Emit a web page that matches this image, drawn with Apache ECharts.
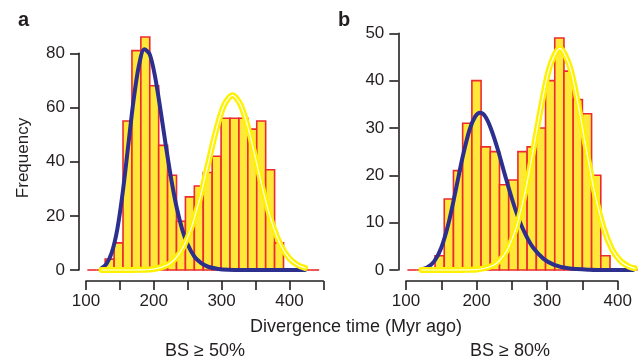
<!DOCTYPE html>
<html><head><meta charset="utf-8">
<script src="https://cdn.jsdelivr.net/npm/echarts@6/dist/echarts.min.js"></script>
<style>html,body{margin:0;padding:0;background:#fff}#c{width:640px;height:360px}</style>
</head><body><div id="c"></div><script>
// ---------- data ----------
// Panel a (BS >= 50%) histogram breaks and counts
const binEdgesA = [102, 115.15, 128.3, 141.45, 154.6, 167.75, 180.9, 194.05, 207.2, 220.35, 233.5, 246.65, 259.8, 272.95, 286.1, 299.25, 312.4, 325.55, 338.7, 351.85, 365, 378.15, 391.3, 404.45, 417.6, 430.75, 443.9];
const countsA = [0, 0, 4, 10, 55, 81, 86, 68, 46, 35, 18, 27, 31, 36, 42, 56, 56, 56, 52, 55, 37, 10, 0, 0, 0, 0];
// Panel b (BS >= 80%)
const binEdgesB = [102, 115.05, 128.1, 141.15, 154.2, 167.25, 180.3, 193.35, 206.4, 219.45, 232.5, 245.55, 258.6, 271.65, 284.7, 297.75, 310.8, 323.85, 336.9, 349.95, 363, 376.05, 389.1, 402.15, 415.2, 428.25];
const countsB = [0, 0, 0, 3, 15, 21, 31, 40, 26, 25, 18, 19, 25, 26, 30, 40, 49, 42, 36, 33, 20, 3, 0, 0, 0];

// Fitted curves
const blueAx = [123, 130, 138, 146, 154, 162, 170, 178, 186, 194, 202, 210, 218, 226, 234, 242, 250, 260, 270, 280, 295, 310, 330, 360, 390, 423];
const blueAy = [0.7, 2.2, 6.4, 14.8, 28.3, 45.3, 62.4, 75.4, 81.5, 79.6, 71.2, 58.9, 45.5, 33.1, 22.8, 14.9, 9.4, 4.9, 2.5, 1.2, 0.4, 0.1, 0, 0, 0, 0];
const yellowAx = [123, 160, 180, 200, 220, 232, 244, 256, 268, 280, 292, 304, 316, 328, 340, 352, 364, 376, 388, 400, 412, 423];
const yellowAy = [0, 0, 0.05, 0.36, 1.84, 4.24, 8.73, 16.1, 26.5, 39.1, 51.6, 61.0, 64.5, 61.0, 51.6, 39.1, 26.5, 16.1, 8.73, 4.24, 1.84, 0.78];
const blueBx = [122, 130, 140, 150, 160, 170, 180, 190, 198, 205, 212, 220, 230, 240, 250, 260, 270, 280, 295, 310, 330, 360, 390, 422];
const blueBy = [0.15, 0.52, 1.81, 4.71, 9.72, 16.5, 23.7, 29.6, 32.4, 33.2, 32.5, 30.0, 25.5, 20.2, 15.1, 10.7, 7.3, 4.75, 2.35, 1.09, 0.36, 0.06, 0, 0];
const yellowBx = [122, 160, 180, 200, 220, 232, 244, 256, 268, 280, 292, 304, 318, 332, 344, 356, 368, 380, 392, 404, 416, 424];
const yellowBy = [0, 0, 0.02, 0.11, 0.73, 1.91, 4.38, 8.87, 15.9, 25.1, 34.9, 43.0, 46.8, 43.0, 34.9, 25.1, 15.9, 8.87, 4.38, 1.91, 0.73, 0.36];

// Axis ranges / tick labels
const xTickLabels = [100, 200, 300, 400];
const xRangeA = [100, 450], yRangeA = [0, 80];
const xRangeB = [100, 400], yRangeB = [0, 50];
// data-drawing ranges (hidden axes, same scale as the visible ones but wider so nothing is cut)
const xDataRangeA = [100, 450], yDataRangeA = [0, 90];
const xDataRangeB = [100, 440], yDataRangeB = [0, 50];

// ---------- styling / layout ----------
const FONT = "'Liberation Sans', Arial, Helvetica, sans-serif";
const INK = '#231f20';
const RED = '#ec2a30';
const BARFILL = '#ffe83a';
const CURVE_Y = '#fff200';
const CURVE_B = '#2c2f8e';

// panel frames in px (visible axes)
const PA = { left: 86, top: 53.3, width: 237.3, height: 216.7 };
const PB = { left: 406, top: 33.3, width: 211.7, height: 236.7 };
// hidden data grids share the same px-per-unit scale
function dataGrid(P, xr, yr, xdr, ydr) {
  const sx = P.width / (xr[1] - xr[0]), sy = P.height / (yr[1] - yr[0]);
  const bottom = P.top + P.height;
  const h = sy * (ydr[1] - ydr[0]);
  return { left: P.left, top: bottom - h, width: sx * (xdr[1] - xdr[0]), height: h, outerBoundsMode: 'none' };
}

function histData(edges, counts) {
  return counts.map((c, i) => [edges[i], edges[i + 1], c]);
}
function pts(xs, ys) { return xs.map((x, i) => [x, ys[i]]); }

function renderHist(params, api) {
  const x0 = api.value(0), x1 = api.value(1), c = api.value(2);
  const pTop = api.coord([x0, c]);
  const pBot = api.coord([x1, 0]);
  if (c === 0) {
    return { type: 'line', shape: { x1: pTop[0], y1: pBot[1], x2: pBot[0], y2: pBot[1] },
      style: { stroke: RED, lineWidth: 1.6 } };
  }
  return { type: 'rect',
    shape: { x: pTop[0], y: pTop[1], width: pBot[0] - pTop[0], height: pBot[1] - pTop[1] },
    style: { fill: BARFILL, stroke: RED, lineWidth: 1.6 } };
}

const axisLine = { show: true, onZero: false, lineStyle: { color: INK, width: 1.6 } };
const axisTick = { show: true, length: 9, lineStyle: { color: INK, width: 1.6 } };
const xLabel = { fontSize: 17, fontFamily: FONT, color: INK, margin: 12,
  formatter: v => (xTickLabels.indexOf(v) >= 0 ? String(v) : '') };
const yLabel = { fontSize: 17, fontFamily: FONT, color: INK, margin: 14 };

function curve(xi, yi, xs, ys, color, width, z) {
  return { type: 'line', xAxisIndex: xi, yAxisIndex: yi, data: pts(xs, ys), smooth: 0.3,
    showSymbol: false, clip: false, silent: true, z: z,
    lineStyle: { color: color, width: width, cap: 'round', join: 'round' } };
}
function hiddenAxis(grid, r) {
  return { gridIndex: grid, type: 'value', min: r[0], max: r[1], show: false, splitLine: { show: false } };
}

const option = {
  animation: false,
  backgroundColor: '#fff',
  grid: [
    Object.assign({ outerBoundsMode: 'none' }, PA),
    Object.assign({ outerBoundsMode: 'none' }, PB),
    dataGrid(PA, xRangeA, yRangeA, xDataRangeA, yDataRangeA),
    dataGrid(PB, xRangeB, yRangeB, xDataRangeB, yDataRangeB)
  ],
  xAxis: [
    { gridIndex: 0, type: 'value', min: xRangeA[0], max: xRangeA[1], interval: 50, offset: 11,
      axisLine, axisTick, axisLabel: xLabel, splitLine: { show: false } },
    { gridIndex: 1, type: 'value', min: xRangeB[0], max: xRangeB[1], interval: 50, offset: 11,
      axisLine, axisTick, axisLabel: xLabel, splitLine: { show: false } },
    hiddenAxis(2, xDataRangeA),
    hiddenAxis(3, xDataRangeB)
  ],
  yAxis: [
    { gridIndex: 0, type: 'value', min: yRangeA[0], max: yRangeA[1], interval: 20, offset: 7,
      axisLine, axisTick, axisLabel: yLabel, splitLine: { show: false } },
    { gridIndex: 1, type: 'value', min: yRangeB[0], max: yRangeB[1], interval: 10, offset: 7.7,
      axisLine, axisTick, axisLabel: yLabel, splitLine: { show: false } },
    hiddenAxis(2, yDataRangeA),
    hiddenAxis(3, yDataRangeB)
  ],
  series: [
    { type: 'custom', xAxisIndex: 2, yAxisIndex: 2, data: histData(binEdgesA, countsA),
      renderItem: renderHist, encode: { x: [0, 1], y: 2 }, clip: false, silent: true, z: 1 },
    { type: 'custom', xAxisIndex: 3, yAxisIndex: 3, data: histData(binEdgesB, countsB),
      renderItem: renderHist, encode: { x: [0, 1], y: 2 }, clip: false, silent: true, z: 1 },
    curve(2, 2, blueAx, blueAy, CURVE_B, 4, 3),
    curve(2, 2, yellowAx, yellowAy, CURVE_Y, 6, 4),
    curve(2, 2, yellowAx, yellowAy, '#ffffff', 1.2, 5),
    curve(3, 3, blueBx, blueBy, CURVE_B, 4, 3),
    curve(3, 3, yellowBx, yellowBy, CURVE_Y, 6, 4),
    curve(3, 3, yellowBx, yellowBy, '#ffffff', 1.2, 5)
  ],
  graphic: [
    { type: 'text', x: 18, y: 20.5, style: { text: 'a', font: 'bold 20px ' + FONT, fill: INK, verticalAlign: 'middle' } },
    { type: 'text', x: 338, y: 20, style: { text: 'b', font: 'bold 20px ' + FONT, fill: INK, verticalAlign: 'middle' } },
    { type: 'text', x: 23, y: 158, rotation: Math.PI / 2,
      style: { text: 'Frequency', font: '17px ' + FONT, fill: INK, align: 'center', verticalAlign: 'middle' } },
    { type: 'text', x: 356, y: 327.5,
      style: { text: 'Divergence time (Myr ago)', font: '18px ' + FONT, fill: INK, align: 'center', verticalAlign: 'middle' } },
    { type: 'text', x: 205, y: 351,
      style: { text: 'BS \u2265 50%', font: '18px ' + FONT, fill: INK, align: 'center', verticalAlign: 'middle' } },
    { type: 'text', x: 510, y: 351,
      style: { text: 'BS \u2265 80%', font: '18px ' + FONT, fill: INK, align: 'center', verticalAlign: 'middle' } }
  ]
};
const chart = echarts.init(document.getElementById('c'), null, { renderer: 'canvas' });
chart.setOption(option);
</script></body></html>
